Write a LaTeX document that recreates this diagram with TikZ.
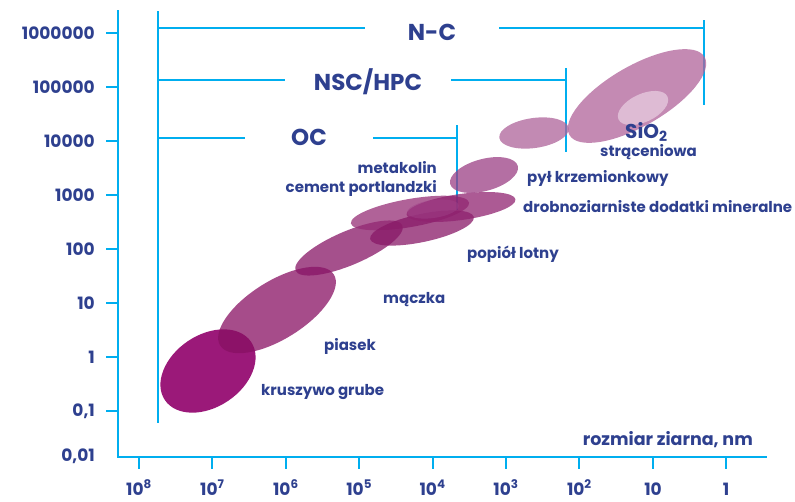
\documentclass[tikz,border=0pt]{standalone}
\usepackage{fontspec}
\setmainfont{Poppins}

\definecolor{axcyan}{HTML}{00AEEF}
\definecolor{txtblue}{HTML}{2E408F}
\definecolor{kruszc}{HTML}{90006A}
\definecolor{piasc}{HTML}{881063}
\definecolor{maczc}{HTML}{871566}
\definecolor{cemc}{HTML}{962E76}
\definecolor{popc}{HTML}{881867}
\definecolor{drobc}{HTML}{902370}
\definecolor{metac}{HTML}{A0448A}
\definecolor{pylc}{HTML}{9B3F84}
\definecolor{nanoc}{HTML}{AE639A}
\definecolor{sioc}{HTML}{B0639A}
\definecolor{sioin}{HTML}{DEBBD4}

\tikzset{
  ax/.style={axcyan, line width=2pt},
  blob/.style={fill opacity=0.75},
  lbl/.style={txtblue, font=\bfseries\fontsize{15}{17}\selectfont, inner sep=0pt},
  ticklbl/.style={txtblue, font=\bfseries\fontsize{17}{19}\selectfont, inner sep=0pt},
  grp/.style={txtblue, font=\bfseries\fontsize{23}{25}\selectfont, inner ysep=0pt}
}

\begin{document}
\begin{tikzpicture}[x=1pt, y=-1pt]
  \useasboundingbox (0,0) rectangle (795,501);

  % axes
  \coordinate (ytop) at (118,10);
  \coordinate (orig) at (118,457);
  \coordinate (xend) at (767,457);
  \draw[ax, line width=1.6pt] (ytop) -- (orig) -- (xend);

  \foreach \v [count=\i from 0] in {1000000,100000,10000,1000,100,10,1,{0,1}} {
    \draw[ax] (106,{33+54*\i}) -- (118,{33+54*\i});
    \node[ticklbl, anchor=east] (y\i) at (95,{33+54*\i}) {\v};
  }
  \node[ticklbl, anchor=east] (y8) at (95,456) {0,01};

  \foreach \e [count=\i from 0] in {8,7,6,5,4,3,2} {
    \draw[ax] ({139+73.4*\i},457) -- ({139+73.4*\i},469);
    \node[ticklbl, anchor=base] (x\i) at ({139+73.4*\i},495) {10\textsuperscript{\e}};
  }
  \draw[ax] (653,457) -- (653,469);
  \node[ticklbl, anchor=base] (x7) at (653,495) {10};
  \draw[ax] (726,457) -- (726,469);
  \node[ticklbl, anchor=base] (x8) at (726,495) {1};
  \node[lbl, font=\bfseries\fontsize{17.5}{19}\selectfont, anchor=east] (xlab) at (753,440) {rozmiar ziarna, nm};

  % ranges of concrete
  \coordinate (gtop) at (158,11);
  \coordinate (gbot) at (158,423);
  \draw[ax] (gtop) -- (gbot);

  \node[grp, inner xsep=43pt] (nc) at (432,32) {N-C};
  \coordinate (nc0) at (158,28);
  \coordinate (nc1) at (704,28);
  \draw[ax] (nc0) -- (nc0 -| nc.west);
  \draw[ax] (nc0 -| nc.east) -- (nc1);
  \draw[ax] (704,20) -- (704,105);

  \node[grp, inner xsep=29pt] (nsc) at (368,82) {NSC/HPC};
  \coordinate (nsc0) at (158,80);
  \coordinate (nsc1) at (566,80);
  \draw[ax] (nsc0) -- (nsc0 -| nsc.west);
  \draw[ax] (nsc0 -| nsc.east) -- (nsc1);
  \draw[ax] (566,68) -- (566,152);

  \node[grp, inner xsep=46pt] (oc) at (309,137) {OC};
  \coordinate (oc0) at (158,138);
  \coordinate (oc1) at (457,138);
  \draw[ax] (oc0) -- (oc0 -| oc.west);
  \draw[ax] (oc0 -| oc.east) -- (oc1);
  \draw[ax] (457,125) -- (457,210);

  % grain size ranges
  \fill[blob, fill opacity=0.9, kruszc] (208,371) ellipse [x radius=52, y radius=36, rotate=34];
  \fill[blob, piasc] (277,310) ellipse [x radius=67, y radius=29, rotate=32];
  \fill[blob, maczc] (349,248) ellipse [x radius=58, y radius=17, rotate=23];
  \fill[blob, cemc] (410,213) ellipse [x radius=60, y radius=14, rotate=10];
  \fill[blob, popc] (422,228) ellipse [x radius=53, y radius=14, rotate=12];
  \fill[blob, drobc] (461,207) ellipse [x radius=55, y radius=13, rotate=8];
  \fill[blob, fill opacity=0.45, metac] (433,209) ellipse [x radius=26, y radius=9, rotate=8];
  \fill[blob, pylc] (484,175) ellipse [x radius=35, y radius=16, rotate=15];
  \fill[blob, nanoc] (534,133) ellipse [x radius=35, y radius=15, rotate=8];
  \fill[blob, sioc] (637,96) ellipse [x radius=78, y radius=30, rotate=30];
  \fill[sioin] (643,108) ellipse [x radius=27, y radius=14, rotate=25];

  % labels
  \node[lbl, anchor=east] (meta) at (437,168) {metakolin};
  \node[lbl, anchor=east] (cem) at (437,188) {cement portlandzki};
  \node[lbl, anchor=west] (pyl) at (527,178) {pył krzemionkowy};
  \node[lbl, anchor=west] (drob) at (523,207) {drobnoziarniste dodatki mineralne};
  \node[lbl, anchor=west] (pop) at (467,254) {popiół lotny};
  \node[lbl, anchor=west] (macz) at (383,300) {mączka};
  \node[lbl, anchor=west] (pias) at (324,346) {piasek};
  \node[lbl, anchor=west] (krusz) at (261,392) {kruszywo grube};
  \node[txtblue, font=\bfseries\fontsize{20}{22}\selectfont, inner sep=0pt, anchor=west] (sio) at (625,132) {SiO\textsubscript{2}};
  \node[lbl, anchor=west] (strac) at (600,152) {strąceniowa};
\end{tikzpicture}
\end{document}
